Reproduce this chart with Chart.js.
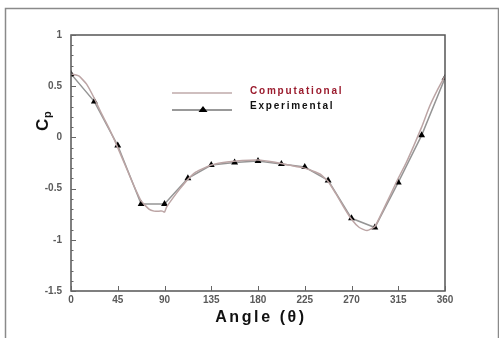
<!DOCTYPE html>
<html>
<head>
<meta charset="utf-8">
<script src="https://cdn.jsdelivr.net/npm/chart.js@4"></script>
<style>
  html, body { margin: 0; padding: 0; background: #fff; }
  #wrap { width: 499px; height: 338px; position: relative; }
</style>
</head>
<body>
<div id="wrap"><canvas id="cpChart" width="499" height="338"></canvas></div>
<script>
// Pressure coefficient around the cylinder
const expAngle = [0, 22.5, 45, 67.5, 90, 112.5, 135, 157.5, 180, 202.5, 225, 247.5, 270, 292.5, 315, 337.5, 360];
const expCp    = [0.62, 0.35, -0.08, -0.65, -0.65, -0.40, -0.27, -0.245, -0.23, -0.26, -0.29, -0.42, -0.79, -0.88, -0.44, 0.02, 0.58];

const compAngle = [0, 7.5, 15, 22.5, 30, 37.5, 45, 52.5, 60, 67.5, 75, 80, 85, 88, 90, 92, 97.5, 105, 112.5, 120, 135, 150, 165, 180, 195, 210, 225, 240, 247.5, 255, 262.5, 270, 277.5, 285, 292.5, 300, 307.5, 315, 322.5, 330, 337.5, 345, 352.5, 360];
const compCp    = [0.62, 0.60, 0.52, 0.38, 0.22, 0.07, -0.10, -0.28, -0.46, -0.62, -0.70, -0.72, -0.72, -0.72, -0.73, -0.68, -0.60, -0.50, -0.41, -0.34, -0.27, -0.24, -0.225, -0.22, -0.24, -0.27, -0.30, -0.36, -0.43, -0.55, -0.68, -0.80, -0.88, -0.91, -0.87, -0.72, -0.56, -0.40, -0.25, -0.08, 0.10, 0.30, 0.46, 0.60];

const xTicks = [0, 45, 90, 135, 180, 225, 270, 315, 360];
const yTicks = [1, 0.5, 0, -0.5, -1, -1.5];

const FONT = '"Liberation Sans", Arial, sans-serif';

// frame, inward ticks, axis titles and the legend
const decor = {
  id: 'decor',
  beforeDraw(chart) {
    const ctx = chart.ctx;
    ctx.save();
    ctx.fillStyle = '#fff';
    ctx.fillRect(0, 0, chart.width, chart.height);
    ctx.strokeStyle = '#8a8a8a';
    ctx.lineWidth = 1.5;
    ctx.strokeRect(5.5, 8.5, 493, 340);
    ctx.restore();
  },
  afterDraw(chart) {
    const ctx = chart.ctx;
    const a = chart.chartArea;
    const xs = chart.scales.x, ys = chart.scales.y;
    ctx.save();
    ctx.strokeStyle = '#555';
    ctx.lineWidth = 1.5;
    ctx.strokeRect(a.left, a.top, a.right - a.left, a.bottom - a.top);

    ctx.lineWidth = 1;
    ctx.strokeStyle = '#666';
    ctx.beginPath();
    yTicks.forEach(v => {
      const y = Math.round(ys.getPixelForValue(v)) + 0.5;
      ctx.moveTo(a.left, y); ctx.lineTo(a.left + 5, y);
    });
    for (let v = -1.4; v < 1; v += 0.1) {
      const y = Math.round(ys.getPixelForValue(v)) + 0.5;
      ctx.moveTo(a.left, y); ctx.lineTo(a.left + 2.5, y);
    }
    xTicks.forEach(v => {
      const x = Math.round(xs.getPixelForValue(v)) + 0.5;
      ctx.moveTo(x, a.bottom); ctx.lineTo(x, a.bottom - 5);
    });
    ctx.stroke();

    // y title: C with subscript p
    ctx.fillStyle = '#111';
    ctx.translate(43, 121);
    ctx.rotate(-Math.PI / 2);
    ctx.textBaseline = 'middle';
    ctx.font = 'bold 17px ' + FONT;
    ctx.fillText('C', -10, 0);
    ctx.font = 'bold 11px ' + FONT;
    ctx.fillText('p', 3, 5);
    ctx.setTransform(1, 0, 0, 1, 0, 0);

    // x title
    ctx.font = 'bold 16px ' + FONT;
    ctx.letterSpacing = '2.6px';
    ctx.textAlign = 'center';
    ctx.textBaseline = 'middle';
    ctx.fillText('Angle (\u03b8)', 261, 318);

    // legend
    ctx.lineWidth = 1.5;
    ctx.strokeStyle = '#bfaaaa';
    ctx.beginPath(); ctx.moveTo(172, 93); ctx.lineTo(232, 93); ctx.stroke();
    ctx.strokeStyle = '#777';
    ctx.beginPath(); ctx.moveTo(172, 110); ctx.lineTo(232, 110); ctx.stroke();
    ctx.fillStyle = '#000';
    ctx.beginPath();
    ctx.moveTo(203, 106); ctx.lineTo(207.5, 112); ctx.lineTo(198.5, 112); ctx.closePath();
    ctx.fill();

    ctx.font = 'bold 10px ' + FONT;
    ctx.letterSpacing = '1.8px';
    ctx.textAlign = 'left';
    ctx.fillStyle = '#9b1c2e';
    ctx.fillText('Computational', 250, 91);
    ctx.fillStyle = '#111';
    ctx.fillText('Experimental', 250, 106);
    ctx.restore();
  }
};

new Chart(document.getElementById('cpChart'), {
  type: 'scatter',
  data: {
    datasets: [
      {
        label: 'Computational',
        data: compAngle.map((a, i) => ({ x: a, y: compCp[i] })),
        showLine: true,
        borderColor: '#bca5a5',
        borderWidth: 1.5,
        pointRadius: 0,
        tension: 0.15
      },
      {
        label: 'Experimental',
        data: expAngle.map((a, i) => ({ x: a, y: expCp[i] })),
        showLine: true,
        borderColor: '#959595',
        borderWidth: 1.5,
        pointStyle: 'triangle',
        pointRadius: 4,
        pointBackgroundColor: '#000',
        pointBorderColor: '#000',
        pointBorderWidth: 0
      }
    ]
  },
  options: {
    responsive: false,
    animation: false,
    layout: { padding: { left: 0, top: 35, right: 54, bottom: 0 } },
    plugins: { legend: { display: false }, tooltip: { enabled: false } },
    scales: {
      x: {
        type: 'linear', min: 0, max: 360,
        afterBuildTicks: s => { s.ticks = xTicks.map(v => ({ value: v })); },
        afterFit: s => { s.height = 47; },
        grid: { display: false, drawTicks: false },
        border: { display: false },
        ticks: { color: '#5a5a5a', padding: 3, maxRotation: 0, font: { family: FONT, size: 10, weight: 'bold' } }
      },
      y: {
        min: -1.5, max: 1,
        afterBuildTicks: s => { s.ticks = yTicks.map(v => ({ value: v })); },
        afterFit: s => { s.width = 71; },
        grid: { display: false, drawTicks: false },
        border: { display: false },
        ticks: { color: '#5a5a5a', padding: 9, callback: v => String(v), font: { family: FONT, size: 10, weight: 'bold' } }
      }
    }
  },
  plugins: [decor]
});
</script>
</body>
</html>
